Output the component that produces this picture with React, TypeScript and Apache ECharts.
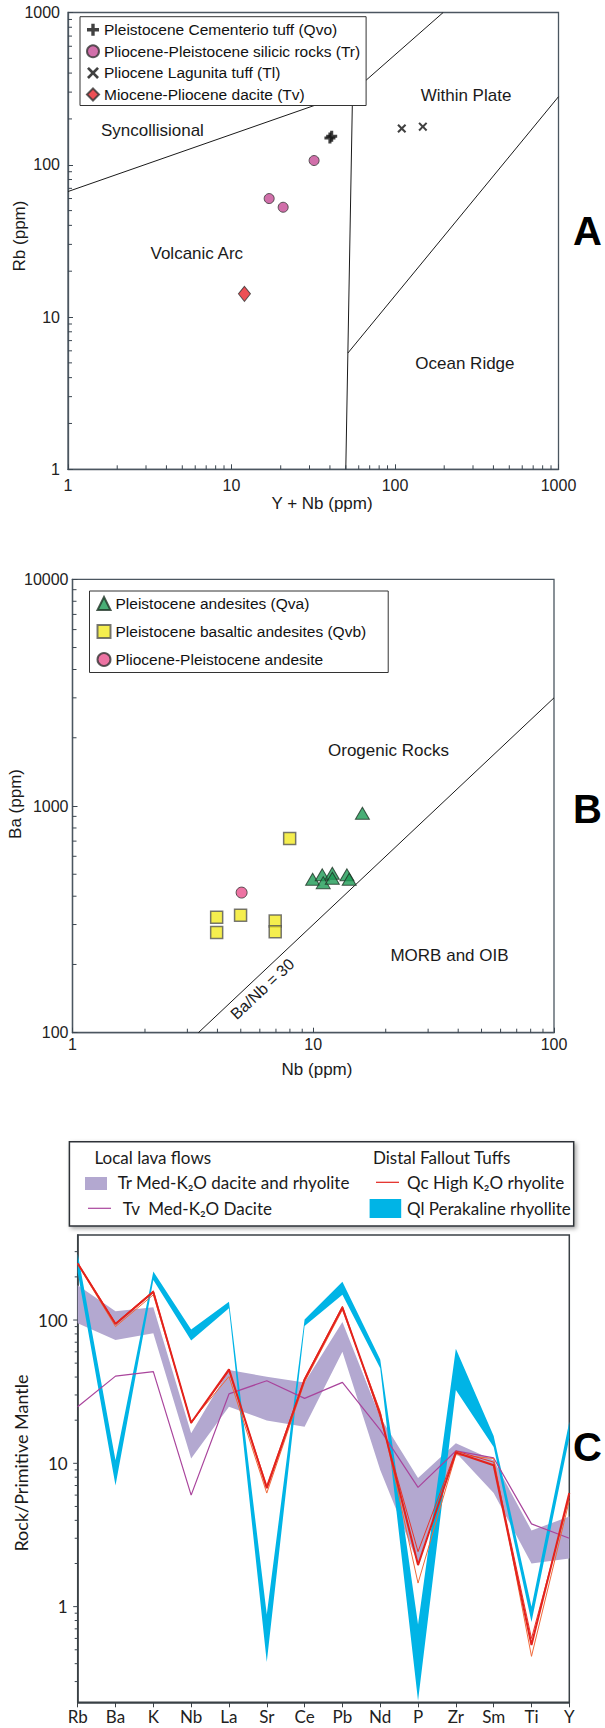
import React, { useEffect, useRef } from "react";
import * as echarts from "echarts";

const W = 605;
const H = 1728;
const SANS = "'Liberation Sans', Arial, Helvetica, sans-serif";
const HUM = "Lato, 'Noto Sans', sans-serif";

// ---------------- Panel A : Rb vs Y+Nb ----------------
const qvoA = [[40, 150], [41, 154]];
const trA = [[32, 106.6], [17, 60], [20.7, 52.6]];
const tlA = [[110, 173], [148, 178]];
const tvA = [[12, 14.2]];
const lineSynVag = [[1, 66.7], [55, 300]];
const lineSynWpg = [[55, 300], [197, 1000]];
const lineVagWpg = [[50, 1], [55, 300]];
const lineWpgOrg = [[51.5, 5.8], [1000, 280]];
const legendA = [
  "Pleistocene Cementerio tuff (Qvo)",
  "Pliocene-Pleistocene silicic rocks (Tr)",
  "Pliocene Lagunita tuff (Tl)",
  "Miocene-Pliocene dacite (Tv)",
];

// ---------------- Panel B : Ba vs Nb ----------------
const qvaB = [[16, 929], [9.94, 475], [10.9, 497], [11, 459], [12, 505], [12, 480], [13.8, 497], [14.1, 475]];
const qvbB = [[7.98, 718], [3.97, 323], [3.97, 277], [4.99, 330], [6.95, 311], [6.95, 279]];
const pliB = [[5.04, 415]];
const lineBaNb30 = [[3.333, 100], [100, 3000]];
const legendB = [
  "Pleistocene andesites (Qva)",
  "Pleistocene basaltic andesites (Qvb)",
  "Pliocene-Pleistocene andesite",
];

// ---------------- Panel C : spider diagram ----------------
const elements = ["Rb", "Ba", "K", "Nb", "La", "Sr", "Ce", "Pb", "Nd", "P", "Zr", "Sm", "Ti", "Y"];
const qlUpper = [290, 10.5, 218, 86, 134, 0.88, 101, 185, 53, 0.75, 63, 15.5, 1.0, 19.5];
const qlLower = [215, 7.0, 190, 72, 121, 0.41, 91, 150, 46, 0.22, 32.5, 13, 0.78, 15];
const trUpper = [175, 115, 123, 16.2, 44.8, 40.2, 36.6, 97, 21, 7.9, 13.8, 10.5, 3.4, 4.25];
const trLower = [95, 72.5, 80.7, 10.8, 24.8, 19.9, 18.0, 60, 9.0, 2.0, 11.9, 6.2, 2.0, 2.17];
const tvLine = [24.8, 40.6, 43.6, 6.0, 30.5, 37.7, 28.4, 36.7, 17.1, 6.8, 12.2, 10.9, 3.78, 3.0];
const qcLine1 = [248, 93.8, 157, 19.2, 45.3, 6.7, 38.5, 122, 22, 1.95, 11.9, 9.7, 0.54, 6.2];
const qcLine2 = [245, 90, 150, 19.5, 40.3, 6.2, 37, 118, 23, 1.46, 11.5, 10.8, 0.45, 5.5];
const qcLine3 = [250, 95, 160, 19, 44, 7.0, 39, 125, 21, 2.42, 12.2, 10.2, 0.6, 5.8];

function minorTicks(lo: number, hi: number, from: number, to: number) {
  const out: number[] = [];
  for (let d = lo; d < hi; d *= 10) {
    for (let m = 2; m <= 9; m++) {
      const v = +(d * m).toPrecision(6);
      if (v > from && v < to) out.push(v);
    }
  }
  return out;
}

const PLUS = "path://M3.6,0H6.4V3.6H10V6.4H6.4V10H3.6V6.4H0V3.6H3.6Z";
const CROSS = "path://M1.6,0L5,3.4L8.4,0L10,1.6L6.6,5L10,8.4L8.4,10L5,6.6L1.6,10L0,8.4L3.4,5L0,1.6Z";
const FRAME = "#4b5660";
const TICK = "#3b4650";

function tickSeries(axis: number, vals: number[], dir: "x" | "y", anchor: number, len: number) {
  return {
    type: "custom",
    xAxisIndex: axis,
    yAxisIndex: axis,
    silent: true,
    clip: false,
    z: 5,
    data: vals.map((v) => (dir === "x" ? [v, anchor] : [anchor, v])),
    encode: { x: 0, y: 1 },
    renderItem: (_p: any, api: any) => {
      const pt = api.coord([api.value(0), api.value(1)]);
      return dir === "x"
        ? { type: "line", shape: { x1: pt[0], y1: pt[1], x2: pt[0], y2: pt[1] - len }, style: { stroke: TICK, lineWidth: 1 } }
        : { type: "line", shape: { x1: pt[0], y1: pt[1], x2: pt[0] + len, y2: pt[1] }, style: { stroke: TICK, lineWidth: 1 } };
    },
  };
}

function bandSeries(upper: number[], lower: number[], color: string, z: number) {
  return {
    type: "custom",
    xAxisIndex: 2,
    yAxisIndex: 2,
    silent: true,
    z,
    data: elements.map((_, i) => [i, lower[i], upper[i]]),
    encode: { x: 0, y: [1, 2] },
    renderItem: (params: any, api: any) => {
      if (params.dataIndex !== 0) return { type: "group", children: [] };
      const top = upper.map((v, i) => api.coord([i, v]));
      const bot = lower.map((v, i) => api.coord([i, v])).reverse();
      return { type: "polygon", shape: { points: top.concat(bot) }, style: { fill: color } };
    },
  };
}

function boundary(axis: number, data: number[][]) {
  return {
    type: "line",
    xAxisIndex: axis,
    yAxisIndex: axis,
    data,
    symbol: "none",
    silent: true,
    lineStyle: { color: "#1a1a1a", width: 1 },
    z: 2,
  };
}

function txt(text: string, x: number, y: number, size: number, opts: any = {}) {
  return {
    type: "text",
    x,
    y,
    rotation: opts.rotation || 0,
    z: 10,
    style: {
      text,
      fontSize: size,
      fontFamily: opts.font || SANS,
      fontWeight: opts.bold ? "bold" : "normal",
      fill: opts.color || "#1a1a1a",
      align: opts.align || "center",
      verticalAlign: "middle",
    },
  };
}

function logAxisAB(gridIndex: number, min: number, max: number, labelMargin: number) {
  return {
    type: "log",
    gridIndex,
    min,
    max,
    logBase: 10,
    axisLine: { show: true, lineStyle: { color: FRAME, width: 1.3 } },
    axisTick: { show: true, inside: true, length: 5, lineStyle: { color: TICK } },
    splitLine: { show: false },
    axisLabel: {
      fontSize: 16,
      fontFamily: SANS,
      color: "#222",
      margin: labelMargin,
      formatter: (v: number) => String(Math.round(v)),
    },
  };
}

export default function App() {
  const ref = useRef<HTMLDivElement>(null);
  useEffect(() => {
    if (!ref.current) return;
    const chart = echarts.init(ref.current, undefined, { renderer: "svg", width: W, height: H });

    const option: any = {
      animation: false,
      backgroundColor: "#fff",
      grid: [
        { left: 68, top: 12.5, width: 490.5, height: 456.8, show: true, borderColor: FRAME, borderWidth: 1.3, backgroundColor: "#fff" },
        { left: 72.5, top: 579.3, width: 481.5, height: 453.4, show: true, borderColor: FRAME, borderWidth: 1.3, backgroundColor: "#fff" },
        { left: 77.7, top: 1235, width: 491.6, height: 467.3, show: true, borderColor: "#3a4045", borderWidth: 1.5, backgroundColor: "#fff" },
      ],
      xAxis: [
        logAxisAB(0, 1, 1000, 8),
        logAxisAB(1, 1, 100, 4),
        {
          type: "category",
          gridIndex: 2,
          data: elements,
          boundaryGap: false,
          axisLine: { show: true, lineStyle: { color: "#3a4045", width: 1.5 } },
          axisTick: { show: true, inside: false, length: 5, lineStyle: { color: "#3a4045" } },
          axisLabel: { fontSize: 17, fontFamily: HUM, color: "#222", margin: 6, interval: 0 },
        },
      ],
      yAxis: [
        logAxisAB(0, 1, 1000, 8),
        logAxisAB(1, 100, 10000, 4),
        {
          type: "log",
          gridIndex: 2,
          min: 0.215,
          max: 392,
          logBase: 10,
          axisLine: { show: true, lineStyle: { color: "#3a4045", width: 1.5 } },
          axisTick: { show: false },
          splitLine: { show: false },
          axisLabel: {
            fontSize: 17,
            fontFamily: HUM,
            color: "#222",
            margin: 10,
            showMinLabel: false,
            showMaxLabel: false,
            formatter: (v: number) => {
              const l = Math.log10(v);
              return Math.abs(l - Math.round(l)) < 1e-3 ? String(Math.round(v)) : "";
            },
          },
        },
      ],
      legend: [
        {
          data: legendA,
          orient: "vertical",
          left: 80,
          top: 16.7,
          padding: [5, 6, 3, 6],
          itemGap: 5.6,
          itemWidth: 12,
          itemHeight: 12,
          borderColor: "#333",
          borderWidth: 1,
          backgroundColor: "#fff",
          selectedMode: false,
          textStyle: { fontSize: 15.5, fontFamily: SANS, color: "#111" },
          z: 6,
        },
        {
          data: legendB,
          orient: "vertical",
          left: 89.5,
          top: 591,
          padding: [4.5, 22, 5, 7],
          itemGap: 12,
          itemWidth: 13,
          itemHeight: 13,
          borderColor: "#333",
          borderWidth: 1,
          backgroundColor: "#fff",
          selectedMode: false,
          textStyle: { fontSize: 15.5, fontFamily: SANS, color: "#111" },
          z: 6,
        },
      ],
      series: [
        // ---- Panel A ----
        boundary(0, lineSynVag),
        boundary(0, lineSynWpg),
        boundary(0, lineVagWpg),
        boundary(0, lineWpgOrg),
        tickSeries(0, minorTicks(1, 1000, 1, 1000), "x", 1, 4),
        tickSeries(0, minorTicks(1, 1000, 1, 1000), "y", 1, 4),
        {
          name: legendA[0], type: "scatter", xAxisIndex: 0, yAxisIndex: 0, data: qvoA,
          symbol: PLUS, symbolSize: 11, itemStyle: { color: "#111" }, z: 4,
        },
        {
          name: legendA[1], type: "scatter", xAxisIndex: 0, yAxisIndex: 0, data: trA,
          symbol: "circle", symbolSize: 10, itemStyle: { color: "#c64b95", borderColor: "#333", borderWidth: 1 }, z: 4,
        },
        {
          name: legendA[2], type: "scatter", xAxisIndex: 0, yAxisIndex: 0, data: tlA,
          symbol: CROSS, symbolSize: 9, itemStyle: { color: "#111" }, z: 4,
        },
        {
          name: legendA[3], type: "scatter", xAxisIndex: 0, yAxisIndex: 0, data: tvA,
          symbol: "diamond", symbolSize: [12, 15], itemStyle: { color: "#e8232b", borderColor: "#333", borderWidth: 1 }, z: 4,
        },
        // ---- Panel B ----
        boundary(1, lineBaNb30),
        tickSeries(1, minorTicks(1, 100, 1, 100), "x", 100, 4),
        tickSeries(1, minorTicks(100, 10000, 100, 10000), "y", 1, 4),
        {
          name: legendB[1], type: "scatter", xAxisIndex: 1, yAxisIndex: 1, data: qvbB,
          symbol: "rect", symbolSize: 12, itemStyle: { color: "#f3ea22", borderColor: "#555", borderWidth: 1.5 }, z: 4,
        },
        {
          name: legendB[2], type: "scatter", xAxisIndex: 1, yAxisIndex: 1, data: pliB,
          symbol: "circle", symbolSize: 11, itemStyle: { color: "#e9508c", borderColor: "#333", borderWidth: 1 }, z: 4,
        },
        {
          name: legendB[0], type: "scatter", xAxisIndex: 1, yAxisIndex: 1, data: qvaB,
          symbol: "triangle", symbolSize: [14, 12], itemStyle: { color: "#1b9a54", borderColor: "#1e3326", borderWidth: 1 }, z: 4,
        },
        // ---- Panel C ----
        bandSeries(trUpper, trLower, "#b3a8d0", 2),
        bandSeries(qlUpper, qlLower, "#00b4e6", 3),
        {
          type: "line", xAxisIndex: 2, yAxisIndex: 2, data: tvLine, symbol: "none", silent: true,
          lineStyle: { color: "#a9449c", width: 1.2 }, z: 4,
        },
        {
          type: "line", xAxisIndex: 2, yAxisIndex: 2, data: qcLine2, symbol: "none", silent: true,
          lineStyle: { color: "#f06a3a", width: 1 }, z: 4,
        },
        {
          type: "line", xAxisIndex: 2, yAxisIndex: 2, data: qcLine3, symbol: "none", silent: true,
          lineStyle: { color: "#e8362a", width: 1 }, z: 4,
        },
        {
          type: "line", xAxisIndex: 2, yAxisIndex: 2, data: qcLine1, symbol: "none", silent: true,
          lineStyle: { color: "#e3221c", width: 2 }, z: 5,
        },
        tickSeries(2, [1, 10, 100], "y", 0, -4.5),
        tickSeries(2, minorTicks(0.1, 1000, 0.215, 392), "y", 0, -3),
      ],
      graphic: [
        // Panel A labels
        txt("Syncollisional", 152.4, 130.7, 17),
        txt("Within Plate", 466, 95.7, 17),
        txt("Volcanic Arc", 196.8, 253.3, 17),
        txt("Ocean Ridge", 464.9, 363.3, 17),
        txt("Rb (ppm)", 19, 236, 17, { rotation: Math.PI / 2 }),
        txt("Y + Nb (ppm)", 322, 503.3, 17),
        txt("A", 602, 231, 40, { bold: true, align: "right", color: "#000" }),
        // Panel B labels
        txt("Orogenic Rocks", 388.5, 750, 17),
        txt("MORB and OIB", 449.5, 955, 17),
        txt("Ba/Nb = 30", 262.3, 989, 16, { rotation: Math.atan(226.7 / 240.8) }),
        txt("Ba (ppm)", 15, 804, 17, { rotation: Math.PI / 2 }),
        txt("Nb (ppm)", 317, 1069, 17),
        txt("B", 602, 809, 40, { bold: true, align: "right", color: "#000" }),
        // Panel C labels
        txt("Rock/Primitive Mantle", 21, 1463, 18, { rotation: Math.PI / 2, font: HUM }),
        txt("C", 602, 1447, 40, { bold: true, align: "right", color: "#000" }),
        // Panel C legend
        {
          type: "rect",
          z: 8,
          shape: { x: 69.4, y: 1141.7, width: 504.3, height: 84.3 },
          style: {
            fill: "#fff",
            stroke: "#2f3338",
            lineWidth: 1.5,
            shadowBlur: 4,
            shadowOffsetX: 2,
            shadowOffsetY: 2,
            shadowColor: "rgba(0,0,0,0.35)",
          },
        },
        txt("Local lava flows", 94.5, 1157.7, 17, { font: HUM, align: "left" }),
        txt("Distal Fallout Tuffs", 373, 1157.7, 17, { font: HUM, align: "left" }),
        { type: "rect", z: 10, shape: { x: 85, y: 1177, width: 22, height: 13 }, style: { fill: "#b3a8d0" } },
        txt("Tr Med-K\u2082O dacite and rhyolite", 117.7, 1182.3, 17, { font: HUM, align: "left" }),
        { type: "line", z: 10, shape: { x1: 88, y1: 1208.3, x2: 111, y2: 1208.3 }, style: { stroke: "#a9449c", lineWidth: 1.2 } },
        txt("Tv  Med-K\u2082O Dacite", 122.7, 1208.3, 17, { font: HUM, align: "left" }),
        { type: "line", z: 10, shape: { x1: 376, y1: 1182.3, x2: 399, y2: 1182.3 }, style: { stroke: "#e3221c", lineWidth: 1.2 } },
        txt("Qc High K\u2082O rhyolite", 407, 1182.3, 17, { font: HUM, align: "left" }),
        { type: "rect", z: 10, shape: { x: 369.6, y: 1199, width: 31.6, height: 19 }, style: { fill: "#00b4e6" } },
        txt("Ql Perakaline rhyollite", 407, 1208.3, 17, { font: HUM, align: "left" }),
      ],
    };

    chart.setOption(option);
    return () => chart.dispose();
  }, []);

  return (
    <div
      ref={ref}
      style={{ position: "absolute", left: 0, top: 0, width: W, height: H, background: "#fff" }}
    />
  );
}
